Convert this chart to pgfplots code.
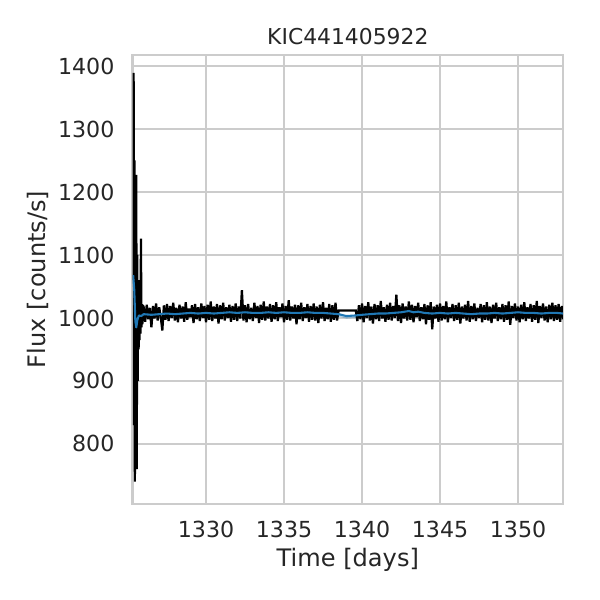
\documentclass[border=0pt]{standalone}
\usepackage{pgfplots}
\pgfplotsset{compat=1.18}
\usepackage{fontspec}
\setmainfont{DejaVu Sans}
\definecolor{txt}{HTML}{262626}
\definecolor{gridc}{HTML}{CCCCCC}
\definecolor{cblue}{HTML}{1F77B4}
\begin{document}
\begin{tikzpicture}
\useasboundingbox (-47.77bp,-34.56bp) rectangle (168.23bp,181.44bp);
\begin{axis}[
  at={(0,0)}, anchor=south west,
  scale only axis, width=154.9bp, height=161.64bp,
  xmin=1325.3, xmax=1352.88, ymin=704.6, ymax=1417.5,
  xtick={1330,1335,1340,1345,1350},
  ytick={800,900,1000,1100,1200,1300,1400},
  /pgf/number format/1000 sep={},
  /pgf/number format/assume math mode=true,
  major tick length=0pt,
  grid=major,
  grid style={gridc, line width=0.72bp},
  axis line style={gridc, line width=0.9bp},
  tick label style={font=\fontsize{8}{9.6}\selectfont, text=txt},
  xticklabel style={anchor=base, yshift=-12.13bp},
  yticklabel style={anchor=east, inner sep=0pt, xshift=-6.4bp},
  every axis title shift=0pt,
  title={KIC441405922},
  title style={font=\fontsize{7.9}{9.5}\selectfont, text=txt, at={(axis description cs:0.5,1.0223)}, anchor=base},
  xlabel={Time [days]},
  xlabel style={font=\fontsize{8.7}{10.5}\selectfont, text=txt, at={(axis description cs:0.5,-0.1396)}, anchor=base},
  ylabel={Flux [counts/s]},
  ylabel style={font=\fontsize{8.7}{10.5}\selectfont, text=txt, at={(axis description cs:-0.2031,0.5)}, anchor=base, rotate=0},
  clip=true,
]
\addplot[black, line width=0.8bp, line join=miter, miter limit=2] coordinates {
(1325.33,1060) (1325.36,1389) (1325.39,830) (1325.41,1250) (1325.44,740)
(1325.47,1180) (1325.50,860) (1325.53,1227) (1325.56,760) (1325.59,1100)
(1325.62,900) (1325.65,1060) (1325.68,950) (1325.71,1040) (1325.74,965)
(1325.77,1030) (1325.80,975) (1325.83,1126) (1325.86,985) (1325.89,1022)
(1325.92,990) (1325.95,1020)
(1326.0,1018) (1326.1,994) (1326.2,1021) (1326.3,998) (1326.4,1016)
(1326.5,985) (1326.6,1019) (1326.7,999) (1326.8,1023) (1326.9,996)
(1327.0,1017) (1327.1,1001) (1327.2,980) (1327.3,1020) (1327.4,997)
(1327.5,1022) (1327.6,995) (1327.7,1019) (1327.8,1000) (1327.9,1024)
(1328.0,996) (1328.1,1016) (1328.2,993) (1328.3,1021) (1328.4,999)
(1328.5,1018) (1328.6,994) (1328.7,1025) (1328.8,997) (1328.9,1015)
(1329.0,1001) (1329.1,1020) (1329.2,992) (1329.3,1022) (1329.4,998)
(1329.5,1017) (1329.6,995) (1329.7,1023) (1329.8,1000) (1329.9,1019)
(1330.0,993) (1330.1,1021) (1330.2,997) (1330.3,1026) (1330.4,995)
(1330.5,1018) (1330.6,999) (1330.7,1022) (1330.8,991) (1330.9,1020)
(1331.0,998) (1331.1,1024) (1331.2,996) (1331.3,1017) (1331.4,1000)
(1331.5,1021) (1331.6,994) (1331.7,1019) (1331.8,997) (1331.9,1023)
(1332.0,995) (1332.1,1018) (1332.2,999) (1332.3,1044) (1332.4,996)
(1332.5,1020) (1332.6,993) (1332.7,1022) (1332.8,998) (1332.9,1016)
(1333.0,995) (1333.1,1024) (1333.2,1000) (1333.3,1019) (1333.4,992)
(1333.5,1021) (1333.6,997) (1333.7,1026) (1333.8,996) (1333.9,1018)
(1334.0,999) (1334.1,1022) (1334.2,994) (1334.3,1020) (1334.4,998)
(1334.5,1025) (1334.6,995) (1334.7,1017) (1334.8,1001) (1334.9,1023)
(1335.0,993) (1335.1,1019) (1335.2,997) (1335.3,1028) (1335.4,996)
(1335.5,1018) (1335.6,999) (1335.7,1021) (1335.8,990) (1335.9,1020)
(1336.0,998) (1336.1,1024) (1336.2,995) (1336.3,1017) (1336.4,1000)
(1336.5,1022) (1336.6,994) (1336.7,1019) (1336.8,997) (1336.9,1023)
(1337.0,996) (1337.1,1018) (1337.2,992) (1337.3,1021) (1337.4,999)
(1337.5,1025) (1337.6,995) (1337.7,1016) (1337.8,998) (1337.9,1022)
(1338.0,994) (1338.1,1020) (1338.2,997) (1338.3,1024) (1338.4,996)
(1338.5,1012)
(1339.6,1012) (1339.7,995) (1339.8,1020) (1339.9,998)
(1340.0,1023) (1340.1,993) (1340.2,1019) (1340.3,1000) (1340.4,1025)
(1340.5,996) (1340.6,1018) (1340.7,991) (1340.8,1022) (1340.9,998)
(1341.0,1020) (1341.1,995) (1341.2,1027) (1341.3,999) (1341.4,1017)
(1341.5,994) (1341.6,1021) (1341.7,997) (1341.8,1024) (1341.9,996)
(1342.0,1019) (1342.1,1000) (1342.2,1037) (1342.3,995) (1342.4,1020)
(1342.5,992) (1342.6,1023) (1342.7,999) (1342.8,1018) (1342.9,996)
(1343.0,1026) (1343.1,997) (1343.2,1021) (1343.3,993) (1343.4,1019)
(1343.5,1001) (1343.6,1024) (1343.7,995) (1343.8,1017) (1343.9,998)
(1344.0,1022) (1344.1,990) (1344.2,1020) (1344.3,997) (1344.4,1025)
(1344.5,982) (1344.6,1018) (1344.7,999) (1344.8,1021) (1344.9,994)
(1345.0,1023) (1345.1,996) (1345.2,1019) (1345.3,998) (1345.4,1026)
(1345.5,993) (1345.6,1017) (1345.7,1000) (1345.8,1022) (1345.9,995)
(1346.0,1020) (1346.1,997) (1346.2,1024) (1346.3,991) (1346.4,1018)
(1346.5,999) (1346.6,1021) (1346.7,996) (1346.8,1027) (1346.9,994)
(1347.0,1019) (1347.1,998) (1347.2,1023) (1347.3,995) (1347.4,1016)
(1347.5,1000) (1347.6,1022) (1347.7,993) (1347.8,1020) (1347.9,997)
(1348.0,1025) (1348.1,996) (1348.2,1018) (1348.3,992) (1348.4,1021)
(1348.5,999) (1348.6,1024) (1348.7,995) (1348.8,1017) (1348.9,998)
(1349.0,1022) (1349.1,994) (1349.2,1020) (1349.3,997) (1349.4,1026)
(1349.5,989) (1349.6,1019) (1349.7,1000) (1349.8,1023) (1349.9,996)
(1350.0,1018) (1350.1,993) (1350.2,1021) (1350.3,998) (1350.4,1025)
(1350.5,995) (1350.6,1017) (1350.7,999) (1350.8,1022) (1350.9,994)
(1351.0,1020) (1351.1,997) (1351.2,1027) (1351.3,992) (1351.4,1019)
(1351.5,1000) (1351.6,1023) (1351.7,996) (1351.8,1018) (1351.9,993)
(1352.0,1021) (1352.1,998) (1352.2,1024) (1352.3,995) (1352.4,1020)
(1352.5,997) (1352.6,1022) (1352.7,994) (1352.8,1019) (1352.9,998)
};
\addplot[fill=cblue, fill opacity=0.35, draw=none] coordinates {
(1338.5,1006) (1339.0,1003) (1339.6,1004) (1339.6,1000) (1339.0,999) (1338.5,1002)
} -- cycle;
\addplot[cblue, line width=0.75bp, line join=round] coordinates {
(1325.33,1068) (1325.40,1045) (1325.47,995) (1325.53,985) (1325.60,997)
(1325.70,1004) (1325.85,1003) (1326.0,1006) (1326.5,1005) (1327.0,1006)
(1327.5,1007) (1328.0,1006) (1328.5,1007) (1329.0,1008) (1329.5,1007)
(1330.0,1008) (1330.5,1007) (1331.0,1008) (1331.5,1009) (1332.0,1008)
(1332.5,1009) (1333.0,1008) (1333.5,1008) (1334.0,1009) (1334.5,1008)
(1335.0,1009) (1335.5,1008) (1336.0,1008) (1336.5,1009) (1337.0,1008)
(1337.5,1008) (1338.0,1007) (1338.5,1006) (1339.0,1003) (1339.6,1004)
(1340.0,1005) (1340.5,1006) (1341.0,1007) (1341.5,1007) (1342.0,1008)
(1342.5,1009) (1343.0,1011) (1343.3,1009) (1343.6,1010) (1344.0,1008)
(1344.5,1007) (1345.0,1008) (1345.5,1007) (1346.0,1008) (1346.5,1007)
(1347.0,1006) (1347.5,1007) (1348.0,1007) (1348.5,1008) (1349.0,1007)
(1349.5,1008) (1350.0,1009) (1350.5,1008) (1351.0,1008) (1351.5,1007)
(1352.0,1008) (1352.5,1008) (1352.9,1007)
};
\end{axis}
\end{tikzpicture}
\end{document}
